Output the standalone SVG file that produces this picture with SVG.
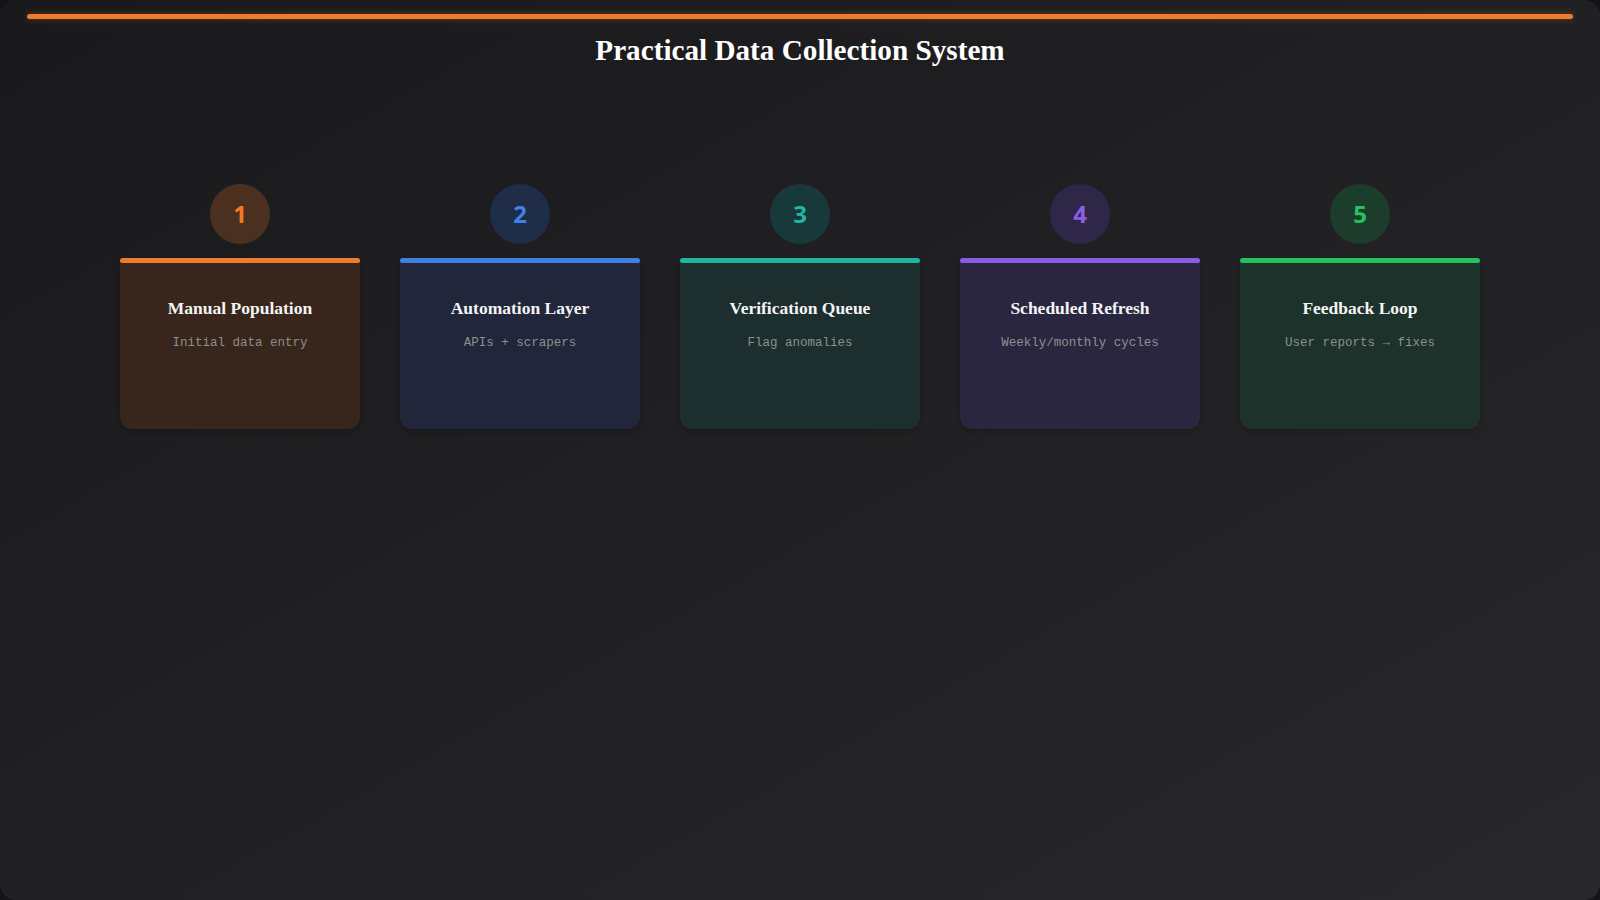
<svg xmlns="http://www.w3.org/2000/svg" width="1600" height="900" viewBox="0 0 1600 900">
  <defs>
    <linearGradient id="bg" x1="0" y1="0" x2="1" y2="1">
      <stop offset="0" stop-color="#19191c"/>
      <stop offset="1" stop-color="#28282a"/>
    </linearGradient>
    <filter id="glow" x="-5%" y="-300%" width="110%" height="700%">
      <feGaussianBlur stdDeviation="3"/>
    </filter>
    <filter id="shadow" x="-20%" y="-20%" width="140%" height="140%">
      <feDropShadow dx="0" dy="3" stdDeviation="5" flood-color="#000" flood-opacity="0.2"/>
    </filter>
    <style>
      .title { font-family: "Liberation Serif", "Times New Roman", serif; font-weight: bold; font-size: 29.2px; fill: #ffffff; text-anchor: middle; }
      .num { font-family: "Open Sans", "Noto Sans", sans-serif; font-weight: bold; font-size: 24px; text-anchor: middle; }
      .ctitle { font-family: "Liberation Serif", "Times New Roman", serif; font-weight: bold; font-size: 17.5px; fill: #f4f4f4; text-anchor: middle; }
      .csub { font-family: "Liberation Mono", "Courier New", monospace; font-size: 12.5px; fill: #8f8f8f; text-anchor: middle; }
    </style>
  </defs>

  <rect x="0" y="0" width="1600" height="900" fill="#141416"/>
  <rect x="0" y="0" width="1600" height="900" rx="16" fill="url(#bg)"/>

  <g id="top-line">
    <rect x="27" y="14" width="1546" height="5" rx="2.5" fill="#f07a2a" opacity="0.35" filter="url(#glow)"/>
    <rect x="27" y="14" width="1546" height="5" rx="2.5" fill="#f07b2c"/>
  </g>

  <text class="title" x="800" y="60">Practical Data Collection System</text>

  <g id="connectors"/>

  <g id="node-1">
    <circle cx="240" cy="214" r="30" fill="#4b2f1f"/>
    <text class="num" x="240" y="223" fill="#f07a22">1</text>
    <path d="M120 260 H360 V415 Q360 429 346 429 H134 Q120 429 120 415 Z" fill="#37271e" filter="url(#shadow)"/>
    <rect x="120" y="258" width="240" height="5" rx="2.5" fill="#f07b2c"/>
    <text class="ctitle" x="240" y="314">Manual Population</text>
    <text class="csub" x="240" y="346">Initial data entry</text>
  </g>

  <g id="node-2">
    <circle cx="520" cy="214" r="30" fill="#1f2d49"/>
    <text class="num" x="520" y="223" fill="#3f82ea">2</text>
    <path d="M400 260 H640 V415 Q640 429 626 429 H414 Q400 429 400 415 Z" fill="#20273a" filter="url(#shadow)"/>
    <rect x="400" y="258" width="240" height="5" rx="2.5" fill="#3f80e4"/>
    <text class="ctitle" x="520" y="314">Automation Layer</text>
    <text class="csub" x="520" y="346">APIs + scrapers</text>
  </g>

  <g id="node-3">
    <circle cx="800" cy="214" r="30" fill="#17393a"/>
    <text class="num" x="800" y="223" fill="#1eb8a4">3</text>
    <path d="M680 260 H920 V415 Q920 429 906 429 H694 Q680 429 680 415 Z" fill="#1c2f2f" filter="url(#shadow)"/>
    <rect x="680" y="258" width="240" height="5" rx="2.5" fill="#1fb5a1"/>
    <text class="ctitle" x="800" y="314">Verification Queue</text>
    <text class="csub" x="800" y="346">Flag anomalies</text>
  </g>

  <g id="node-4">
    <circle cx="1080" cy="214" r="30" fill="#2e2748"/>
    <text class="num" x="1080" y="223" fill="#8c5ee8">4</text>
    <path d="M960 260 H1200 V415 Q1200 429 1186 429 H974 Q960 429 960 415 Z" fill="#2a2640" filter="url(#shadow)"/>
    <rect x="960" y="258" width="240" height="5" rx="2.5" fill="#8b5ce6"/>
    <text class="ctitle" x="1080" y="314">Scheduled Refresh</text>
    <text class="csub" x="1080" y="346">Weekly/monthly cycles</text>
  </g>

  <g id="node-5">
    <circle cx="1360" cy="214" r="30" fill="#1c3c2c"/>
    <text class="num" x="1360" y="223" fill="#26c25e">5</text>
    <path d="M1240 260 H1480 V415 Q1480 429 1466 429 H1254 Q1240 429 1240 415 Z" fill="#1f3329" filter="url(#shadow)"/>
    <rect x="1240" y="258" width="240" height="5" rx="2.5" fill="#25c15c"/>
    <text class="ctitle" x="1360" y="314">Feedback Loop</text>
    <text class="csub" x="1360" y="346">User reports → fixes</text>
  </g>
</svg>
